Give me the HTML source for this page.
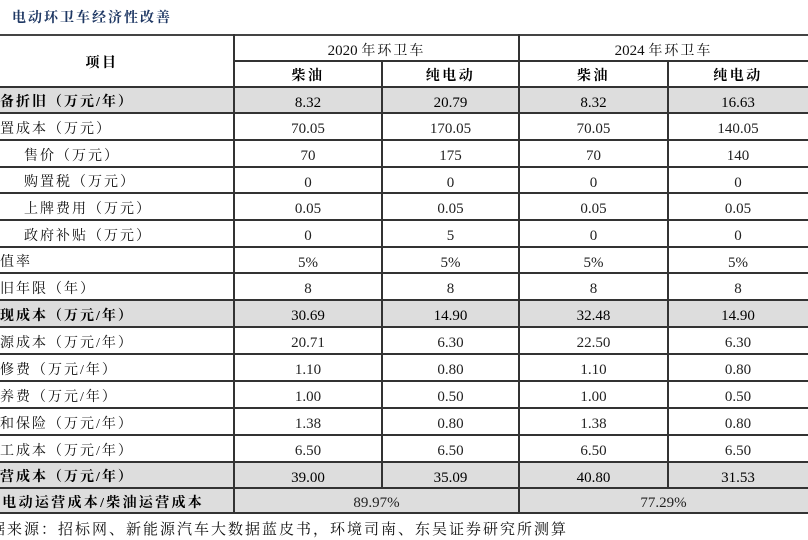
<!DOCTYPE html>
<html>
<head>
<meta charset="utf-8">
<style>
  html,body{margin:0;padding:0;}
  body{width:808px;height:536px;overflow:hidden;background:#fff;position:relative;
       font-family:"Liberation Serif","Noto Serif CJK SC",serif;color:#1a1a1a;}
  .title{position:absolute;left:12px;top:9px;font-size:14px;letter-spacing:2px;color:#1f3864;font-weight:bold;
         font-family:"Liberation Serif","Noto Serif CJK SC",serif;line-height:20px;white-space:nowrap;}
  .bg{position:absolute;left:0;width:808px;background:#dddddd;}
  .h{position:absolute;height:2px;background:#333;}
  .v{position:absolute;width:2px;background:#333;}
  .cell{position:absolute;display:flex;align-items:center;justify-content:center;box-sizing:border-box;padding-top:6px;white-space:nowrap;}
  .cell span{line-height:1;}
  .num{font-size:15px;color:#222;}
  .nb{color:#000;}
  .lab{position:absolute;display:flex;align-items:center;box-sizing:border-box;padding-top:6px;white-space:nowrap;
       font-size:14px;letter-spacing:2px;color:#111;}
  .lab span{line-height:1;}
  .b{font-weight:bold;color:#000;}
  .hd{font-size:14px;letter-spacing:2.5px;font-weight:bold;color:#000;}
  .hy{font-size:15px;color:#111;}
  .hy .c{font-size:14px;letter-spacing:2px;}
  .src{position:absolute;left:-27px;top:520px;font-size:15px;letter-spacing:2px;color:#111;white-space:nowrap;line-height:20px;}
</style>
</head>
<body>
<div class="title">电动环卫车经济性改善</div>

<!-- gray backgrounds -->
<div class="bg" style="top:87px;height:26px;"></div>
<div class="bg" style="top:300px;height:27px;"></div>
<div class="bg" style="top:462px;height:51px;"></div>

<!-- horizontal lines -->
<div class="h" style="left:0;width:808px;top:34px;background:#444;"></div>
<div class="h" style="left:234px;width:574px;top:60px;"></div>
<div class="h" style="left:0;width:808px;top:86px;"></div>
<div class="h" style="left:0;width:808px;top:112px;"></div>
<div class="h" style="left:0;width:808px;top:139px;"></div>
<div class="h" style="left:0;width:808px;top:166px;"></div>
<div class="h" style="left:0;width:808px;top:192px;"></div>
<div class="h" style="left:0;width:808px;top:219px;"></div>
<div class="h" style="left:0;width:808px;top:246px;"></div>
<div class="h" style="left:0;width:808px;top:272px;"></div>
<div class="h" style="left:0;width:808px;top:299px;"></div>
<div class="h" style="left:0;width:808px;top:326px;"></div>
<div class="h" style="left:0;width:808px;top:353px;"></div>
<div class="h" style="left:0;width:808px;top:380px;"></div>
<div class="h" style="left:0;width:808px;top:407px;"></div>
<div class="h" style="left:0;width:808px;top:434px;"></div>
<div class="h" style="left:0;width:808px;top:461px;"></div>
<div class="h" style="left:0;width:808px;top:487px;"></div>
<div class="h" style="left:0;width:808px;top:512px;"></div>

<!-- vertical lines -->
<div class="v" style="left:233px;top:34px;height:480px;"></div>
<div class="v" style="left:518px;top:34px;height:480px;"></div>
<div class="v" style="left:381px;top:60px;height:429px;"></div>
<div class="v" style="left:667px;top:60px;height:429px;"></div>

<!-- header -->
<div class="cell hd" style="left:0;width:234px;top:35px;height:52px;padding-left:0;"><span style="margin-left:-30px;">项目</span></div>
<div class="cell hy" style="left:234px;width:285px;top:35px;height:26px;"><span>2020 <span class="c">年环卫车</span></span></div>
<div class="cell hy" style="left:519px;width:289px;top:35px;height:26px;"><span>2024 <span class="c">年环卫车</span></span></div>
<div class="cell hd" style="left:234px;width:148px;top:61px;height:26px;"><span>柴油</span></div>
<div class="cell hd" style="left:382px;width:137px;top:61px;height:26px;"><span>纯电动</span></div>
<div class="cell hd" style="left:519px;width:149px;top:61px;height:26px;"><span>柴油</span></div>
<div class="cell hd" style="left:668px;width:140px;top:61px;height:26px;"><span>纯电动</span></div>

<!-- row 0 -->
<div class="lab b" style="left:-16px;top:87px;height:26px;"><span>设备折旧（万元/年）</span></div>
<div class="cell num nb" style="left:234px;width:148px;top:87px;height:26px;"><span>8.32</span></div>
<div class="cell num nb" style="left:382px;width:137px;top:87px;height:26px;"><span>20.79</span></div>
<div class="cell num nb" style="left:519px;width:149px;top:87px;height:26px;"><span>8.32</span></div>
<div class="cell num nb" style="left:668px;width:140px;top:87px;height:26px;"><span>16.63</span></div>
<!-- row 1 -->
<div class="lab" style="left:-16px;top:113px;height:27px;"><span>购置成本（万元）</span></div>
<div class="cell num" style="left:234px;width:148px;top:113px;height:27px;"><span>70.05</span></div>
<div class="cell num" style="left:382px;width:137px;top:113px;height:27px;"><span>170.05</span></div>
<div class="cell num" style="left:519px;width:149px;top:113px;height:27px;"><span>70.05</span></div>
<div class="cell num" style="left:668px;width:140px;top:113px;height:27px;"><span>140.05</span></div>
<!-- row 2 -->
<div class="lab" style="left:24px;top:140px;height:27px;"><span>售价（万元）</span></div>
<div class="cell num" style="left:234px;width:148px;top:140px;height:27px;"><span>70</span></div>
<div class="cell num" style="left:382px;width:137px;top:140px;height:27px;"><span>175</span></div>
<div class="cell num" style="left:519px;width:149px;top:140px;height:27px;"><span>70</span></div>
<div class="cell num" style="left:668px;width:140px;top:140px;height:27px;"><span>140</span></div>
<!-- row 3 -->
<div class="lab" style="left:24px;top:167px;height:26px;"><span>购置税（万元）</span></div>
<div class="cell num" style="left:234px;width:148px;top:167px;height:26px;"><span>0</span></div>
<div class="cell num" style="left:382px;width:137px;top:167px;height:26px;"><span>0</span></div>
<div class="cell num" style="left:519px;width:149px;top:167px;height:26px;"><span>0</span></div>
<div class="cell num" style="left:668px;width:140px;top:167px;height:26px;"><span>0</span></div>
<!-- row 4 -->
<div class="lab" style="left:24px;top:193px;height:27px;"><span>上牌费用（万元）</span></div>
<div class="cell num" style="left:234px;width:148px;top:193px;height:27px;"><span>0.05</span></div>
<div class="cell num" style="left:382px;width:137px;top:193px;height:27px;"><span>0.05</span></div>
<div class="cell num" style="left:519px;width:149px;top:193px;height:27px;"><span>0.05</span></div>
<div class="cell num" style="left:668px;width:140px;top:193px;height:27px;"><span>0.05</span></div>
<!-- row 5 -->
<div class="lab" style="left:24px;top:220px;height:27px;"><span>政府补贴（万元）</span></div>
<div class="cell num" style="left:234px;width:148px;top:220px;height:27px;"><span>0</span></div>
<div class="cell num" style="left:382px;width:137px;top:220px;height:27px;"><span>5</span></div>
<div class="cell num" style="left:519px;width:149px;top:220px;height:27px;"><span>0</span></div>
<div class="cell num" style="left:668px;width:140px;top:220px;height:27px;"><span>0</span></div>
<!-- row 6 -->
<div class="lab" style="left:-16px;top:247px;height:26px;"><span>残值率</span></div>
<div class="cell num" style="left:234px;width:148px;top:247px;height:26px;"><span>5%</span></div>
<div class="cell num" style="left:382px;width:137px;top:247px;height:26px;"><span>5%</span></div>
<div class="cell num" style="left:519px;width:149px;top:247px;height:26px;"><span>5%</span></div>
<div class="cell num" style="left:668px;width:140px;top:247px;height:26px;"><span>5%</span></div>
<!-- row 7 -->
<div class="lab" style="left:-16px;top:273px;height:27px;"><span>折旧年限（年）</span></div>
<div class="cell num" style="left:234px;width:148px;top:273px;height:27px;"><span>8</span></div>
<div class="cell num" style="left:382px;width:137px;top:273px;height:27px;"><span>8</span></div>
<div class="cell num" style="left:519px;width:149px;top:273px;height:27px;"><span>8</span></div>
<div class="cell num" style="left:668px;width:140px;top:273px;height:27px;"><span>8</span></div>
<!-- row 8 -->
<div class="lab b" style="left:-16px;top:300px;height:27px;"><span>折现成本（万元/年）</span></div>
<div class="cell num nb" style="left:234px;width:148px;top:300px;height:27px;"><span>30.69</span></div>
<div class="cell num nb" style="left:382px;width:137px;top:300px;height:27px;"><span>14.90</span></div>
<div class="cell num nb" style="left:519px;width:149px;top:300px;height:27px;"><span>32.48</span></div>
<div class="cell num nb" style="left:668px;width:140px;top:300px;height:27px;"><span>14.90</span></div>
<!-- row 9 -->
<div class="lab" style="left:-16px;top:327px;height:27px;"><span>能源成本（万元/年）</span></div>
<div class="cell num" style="left:234px;width:148px;top:327px;height:27px;"><span>20.71</span></div>
<div class="cell num" style="left:382px;width:137px;top:327px;height:27px;"><span>6.30</span></div>
<div class="cell num" style="left:519px;width:149px;top:327px;height:27px;"><span>22.50</span></div>
<div class="cell num" style="left:668px;width:140px;top:327px;height:27px;"><span>6.30</span></div>
<!-- row 10 -->
<div class="lab" style="left:-16px;top:354px;height:27px;"><span>维修费（万元/年）</span></div>
<div class="cell num" style="left:234px;width:148px;top:354px;height:27px;"><span>1.10</span></div>
<div class="cell num" style="left:382px;width:137px;top:354px;height:27px;"><span>0.80</span></div>
<div class="cell num" style="left:519px;width:149px;top:354px;height:27px;"><span>1.10</span></div>
<div class="cell num" style="left:668px;width:140px;top:354px;height:27px;"><span>0.80</span></div>
<!-- row 11 -->
<div class="lab" style="left:-16px;top:381px;height:27px;"><span>保养费（万元/年）</span></div>
<div class="cell num" style="left:234px;width:148px;top:381px;height:27px;"><span>1.00</span></div>
<div class="cell num" style="left:382px;width:137px;top:381px;height:27px;"><span>0.50</span></div>
<div class="cell num" style="left:519px;width:149px;top:381px;height:27px;"><span>1.00</span></div>
<div class="cell num" style="left:668px;width:140px;top:381px;height:27px;"><span>0.50</span></div>
<!-- row 12 -->
<div class="lab" style="left:-16px;top:408px;height:27px;"><span>税和保险（万元/年）</span></div>
<div class="cell num" style="left:234px;width:148px;top:408px;height:27px;"><span>1.38</span></div>
<div class="cell num" style="left:382px;width:137px;top:408px;height:27px;"><span>0.80</span></div>
<div class="cell num" style="left:519px;width:149px;top:408px;height:27px;"><span>1.38</span></div>
<div class="cell num" style="left:668px;width:140px;top:408px;height:27px;"><span>0.80</span></div>
<!-- row 13 -->
<div class="lab" style="left:-16px;top:435px;height:27px;"><span>人工成本（万元/年）</span></div>
<div class="cell num" style="left:234px;width:148px;top:435px;height:27px;"><span>6.50</span></div>
<div class="cell num" style="left:382px;width:137px;top:435px;height:27px;"><span>6.50</span></div>
<div class="cell num" style="left:519px;width:149px;top:435px;height:27px;"><span>6.50</span></div>
<div class="cell num" style="left:668px;width:140px;top:435px;height:27px;"><span>6.50</span></div>
<!-- row 14 -->
<div class="lab b" style="left:-16px;top:462px;height:26px;"><span>运营成本（万元/年）</span></div>
<div class="cell num nb" style="left:234px;width:148px;top:462px;height:26px;"><span>39.00</span></div>
<div class="cell num nb" style="left:382px;width:137px;top:462px;height:26px;"><span>35.09</span></div>
<div class="cell num nb" style="left:519px;width:149px;top:462px;height:26px;"><span>40.80</span></div>
<div class="cell num nb" style="left:668px;width:140px;top:462px;height:26px;"><span>31.53</span></div>
<!-- row 15 -->
<div class="lab b" style="left:-14px;top:488px;height:25px;letter-spacing:2.3px;"><span>纯电动运营成本/柴油运营成本</span></div>
<div class="cell num" style="left:234px;width:285px;top:488px;height:25px;"><span>89.97%</span></div>
<div class="cell num" style="left:519px;width:289px;top:488px;height:25px;"><span>77.29%</span></div>

<div class="src">数据来源：招标网、新能源汽车大数据蓝皮书，环境司南、东吴证券研究所测算</div>
</body>
</html>
